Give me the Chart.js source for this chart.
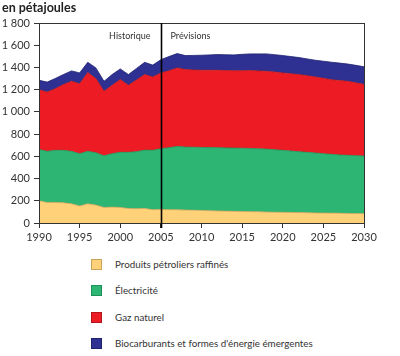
<!DOCTYPE html>
<html>
<head>
<meta charset="utf-8">
<script src="https://cdn.jsdelivr.net/npm/chart.js@4/dist/chart.umd.min.js"></script>
<style>
  html, body { margin: 0; padding: 0; background: #fff; }
  #wrap { position: relative; width: 400px; height: 356px; font-family: Lato, "DejaVu Sans", sans-serif; color: #333; }
  #title { position: absolute; left: 2px; top: 0px; font-weight: bold; font-size: 12.5px; color: #222; line-height: 16px; }
  #cv { position: absolute; left: 0; top: 0; }
  #legend { position: absolute; left: 0; top: 0; width: 400px; }
  .li { position: absolute; left: 91px; height: 12px; font-size: 9.8px; line-height: 12px; white-space: nowrap; }
  .sw { position: absolute; left: 0; top: 0; width: 9px; height: 9px; border: 1px solid; }
  .tx { position: absolute; left: 24px; top: -1px; }
</style>
</head>
<body>
<div id="wrap">
  <canvas id="cv" width="400" height="250"></canvas>
  <div id="title">en pétajoules</div>
  <div id="legend"></div>
</div>
<script>
const years = [];
for (let y = 1990; y <= 2030; y++) years.push(String(y));

const seriesLabels = [
  "Produits pétroliers raffinés",
  "Électricité",
  "Gaz naturel",
  "Biocarburants et formes d'énergie émergentes"
];

const oil = [200,185,185,182,173,153,173,161,140,143,140,131,128,131,120,122,120,119,117,115,113,111,109,107,105,104,102,101,99,97,96,95,94,92,91,90,89,88,86,85,84];
const electricity = [462,460,469,472,472,471,472,472,465,481,496,505,514,525,534,547,558,570,566,567,567,568,569,569,569,569,569,567,566,563,558,553,548,544,539,534,529,525,523,521,519];
const gas = [538,533,555,592,630,630,709,667,580,616,655,604,645,680,661,681,692,707,698,696,695,696,697,696,696,698,701,701,701,699,697,696,694,690,685,678,672,670,666,656,645];
const bio = [85,90,92,90,94,97,92,96,90,96,96,96,104,110,106,120,128,129,126,130,135,138,141,142,143,147,150,153,156,156,156,154,153,151,150,154,157,156,156,157,158];

const yTicks = [0,200,400,600,800,1000,1200,1400,1600,1800];
const xTickYears = ["1990","1995","2000","2005","2010","2015","2020","2025","2030"];
const splitYear = "2005";
const annotLeft = "Historique";
const annotRight = "Prévisions";

const fills = ["#FFD27A", "#2DB673", "#ED1C24", "#2E3192"];
const edges = ["#C9A35A", "#1E8F57", "#B5161C", "#1F2270"];
const values = [oil, electricity, gas, bio];

const datasets = values.map((v, i) => ({
  label: seriesLabels[i],
  data: v,
  backgroundColor: fills[i],
  borderColor: edges[i],
  borderWidth: 0.8,
  pointRadius: 0,
  tension: 0,
  fill: i === 0 ? 'origin' : '-1'
}));

const framePlugin = {
  id: 'frame',
  afterDatasetsDraw(chart) {
    const { ctx, chartArea: a, scales } = chart;
    ctx.save();
    ctx.strokeStyle = '#333';
    ctx.lineWidth = 1;
    ctx.strokeRect(a.left + 0.5, a.top + 0.5, a.right - a.left, a.bottom - a.top);
    const xs = Math.round(scales.x.getPixelForValue(years.indexOf(splitYear))) + 0.5;
    ctx.strokeStyle = '#000';
    ctx.lineWidth = 1.6;
    ctx.beginPath();
    ctx.moveTo(xs, a.top);
    ctx.lineTo(xs, a.bottom + 5);
    ctx.stroke();
    ctx.fillStyle = '#333';
    ctx.font = '9px Lato, "DejaVu Sans", sans-serif';
    ctx.textBaseline = 'middle';
    ctx.textAlign = 'right';
    ctx.fillText(annotLeft, xs - 11, a.top + 13);
    ctx.textAlign = 'left';
    ctx.fillText(annotRight, xs + 9, a.top + 13);
    ctx.restore();
  }
};

new Chart(document.getElementById('cv'), {
  type: 'line',
  data: { labels: years, datasets },
  options: {
    responsive: false,
    animation: false,
    events: [],
    layout: { padding: { top: 23, right: 36, left: 0, bottom: 0 } },
    plugins: { legend: { display: false }, tooltip: { enabled: false }, title: { display: false } },
    scales: {
      x: {
        type: 'category',
        offset: false,
        grid: { display: true, drawOnChartArea: false, drawTicks: true, tickLength: 5, color: '#333' },
        border: { display: true, color: '#333' },
        ticks: {
          autoSkip: false, maxRotation: 0, minRotation: 0, padding: 3,
          color: '#333', font: { family: 'Lato, "DejaVu Sans", sans-serif', size: 11 },
          callback: function(val) { const l = years[val]; return xTickYears.includes(l) ? l : null; }
        },
        afterFit(s) { s.height = 27; }
      },
      y: {
        stacked: true,
        min: 0, max: 1800,
        afterBuildTicks(s) { s.ticks = yTicks.map(v => ({ value: v })); },
        grid: { display: true, drawOnChartArea: false, drawTicks: true, tickLength: 5, color: '#333' },
        border: { display: true, color: '#333' },
        ticks: {
          padding: 4, color: '#333', font: { family: 'Lato, "DejaVu Sans", sans-serif', size: 11 },
          callback: v => v >= 1000 ? Math.floor(v / 1000) + '\u00a0' + String(v % 1000).padStart(3, '0') : String(v)
        },
        afterFit(s) { s.width = 39; }
      }
    }
  },
  plugins: [framePlugin]
});

const legend = document.getElementById('legend');
const rowTops = [259, 285, 312, 338];
seriesLabels.forEach((lab, i) => {
  const d = document.createElement('div');
  d.className = 'li';
  d.style.top = rowTops[i] + 'px';
  const sw = document.createElement('div');
  sw.className = 'sw';
  sw.style.background = fills[i];
  sw.style.borderColor = edges[i];
  const t = document.createElement('div');
  t.className = 'tx';
  t.textContent = lab;
  d.appendChild(sw); d.appendChild(t);
  legend.appendChild(d);
});
</script>
</body>
</html>
